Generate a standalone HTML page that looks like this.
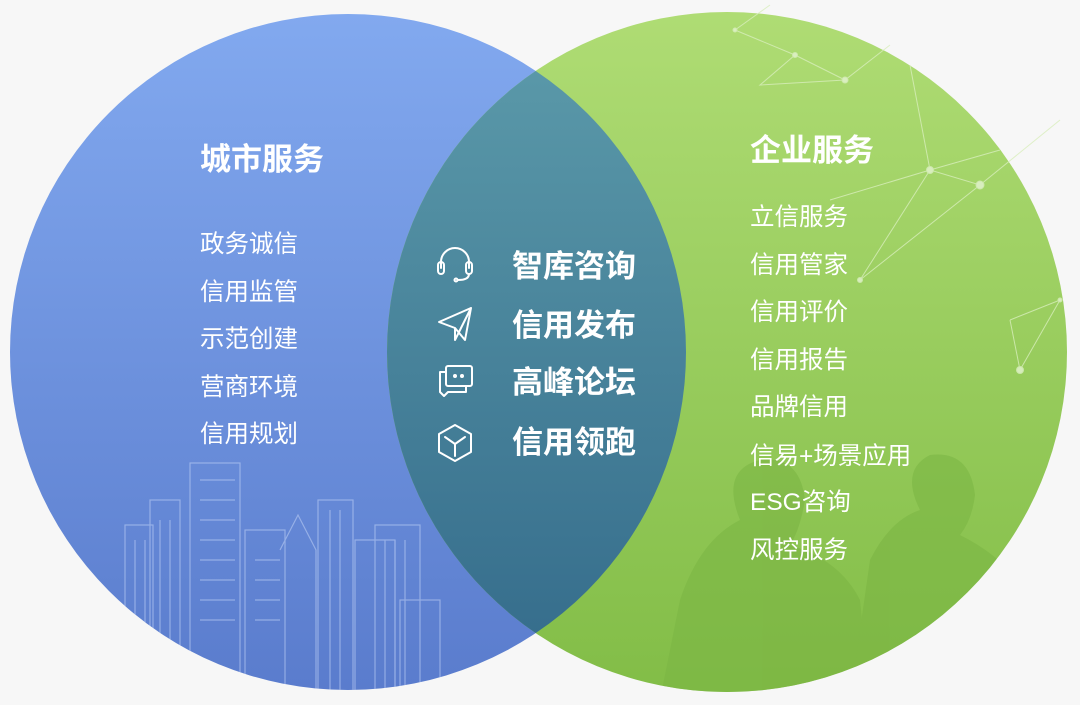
<!DOCTYPE html>
<html><head><meta charset="utf-8"><style>
html,body{margin:0;padding:0;background:#f7f7f7;}
svg{display:block}
text{font-family:"Liberation Sans","Noto Sans CJK SC",sans-serif;fill:#fff}
</style></head><body>
<svg width="1080" height="705" viewBox="0 0 1080 705" xmlns="http://www.w3.org/2000/svg">
<defs>
<linearGradient id="gb" x1="0" y1="0" x2="0" y2="1"><stop offset="0" stop-color="#82a9ef"/><stop offset="1" stop-color="#5a7ccd"/></linearGradient>
<linearGradient id="gg" x1="0" y1="0" x2="0" y2="1"><stop offset="0" stop-color="#afdc74"/><stop offset="1" stop-color="#82bd47"/></linearGradient>
<linearGradient id="gm" x1="0" y1="0" x2="0" y2="1"><stop offset="0" stop-color="#5d9cab"/><stop offset="1" stop-color="#336a8a"/></linearGradient>
<clipPath id="cl"><circle cx="348" cy="352" r="338"/></clipPath>
<clipPath id="cr"><circle cx="727" cy="352" r="340"/></clipPath>
</defs>
<rect width="1080" height="705" fill="#f7f7f7"/>
<circle cx="348" cy="352" r="338" fill="url(#gb)"/>
<circle cx="727" cy="352" r="340" fill="url(#gg)"/>
<g clip-path="url(#cr)" fill="#7cb544" opacity="0.6">
<path d="M660 700 L680 600 Q700 540 740 520 Q720 470 760 460 Q800 455 805 500 Q800 530 790 545 Q840 560 860 600 L870 700Z"/>
<path d="M850 700 L870 560 Q890 520 920 510 Q900 470 930 455 Q970 450 975 495 Q972 520 960 535 Q1010 560 1030 600 L1040 700Z"/>
</g>
<g stroke="#d8eebc" stroke-width="1" fill="#e6f4d4" opacity="0.8">
<path d="M735 30 L795 55 L845 80 L890 45 M795 55 L760 85 L845 80 M735 30 L770 5 M910 65 L930 170 L980 185 L1060 120 M930 170 L860 280 L980 185 M930 170 L1000 150 M1010 320 L1060 300 L1020 370 L1010 320 M830 200 L930 170" fill="none"/>
<circle cx="795" cy="55" r="2.5"/><circle cx="845" cy="80" r="3"/><circle cx="735" cy="30" r="2"/><circle cx="930" cy="170" r="3.5"/><circle cx="980" cy="185" r="4"/><circle cx="860" cy="280" r="2.5"/><circle cx="1020" cy="370" r="3.5"/><circle cx="1060" cy="300" r="2"/>
</g>
<g clip-path="url(#cl)" stroke="#b9ccf3" stroke-width="1.2" fill="none" opacity="0.6">
<rect x="190" y="463" width="50" height="240"/><rect x="150" y="500" width="30" height="200"/><rect x="125" y="525" width="28" height="180"/>
<rect x="245" y="530" width="40" height="170"/><path d="M280 550 L298 515 L316 550 V700"/>
<rect x="318" y="500" width="35" height="200"/><rect x="355" y="540" width="40" height="160"/><rect x="375" y="525" width="45" height="175"/><rect x="400" y="600" width="40" height="100"/>
<path d="M200 480 H235 M200 500 H235 M200 520 H235 M200 540 H235 M200 560 H235 M200 580 H235 M200 600 H235 M200 620 H235 M160 520 V700 M170 520 V700 M135 540 V700 M145 540 V700 M330 510 V700 M340 510 V700 M385 540 V700 M395 540 V700 M405 540 V700 M255 560 H280 M255 580 H280 M255 600 H280 M255 620 H280"/>
</g>
<g clip-path="url(#cl)"><circle cx="727" cy="352" r="340" fill="url(#gm)"/></g>
<text x="200" y="170" font-size="31" font-weight="bold">城市服务</text>
<g font-size="24.5">
<text x="200" y="252">政务诚信</text><text x="200" y="300">信用监管</text><text x="200" y="347">示范创建</text><text x="200" y="395">营商环境</text><text x="200" y="442">信用规划</text>
</g>
<text x="750" y="161" font-size="31" font-weight="bold">企业服务</text>
<g font-size="24.5">
<text x="750" y="225">立信服务</text><text x="750" y="273">信用管家</text><text x="750" y="320">信用评价</text><text x="750" y="368">信用报告</text><text x="750" y="415">品牌信用</text><text x="750" y="464">信易+场景应用</text><text x="750" y="510">ESG咨询</text><text x="750" y="558">风控服务</text>
</g>
<g font-size="31" font-weight="bold">
<text x="512" y="277">智库咨询</text><text x="512" y="336">信用发布</text><text x="512" y="393">高峰论坛</text><text x="512" y="453">信用领跑</text>
</g>
<g stroke="#fff" stroke-width="2" fill="none" stroke-linejoin="round" stroke-linecap="round">
<path d="M441 268 V262 A14 14 0 0 1 469 262 V268"/><rect x="438" y="262" width="6" height="12" rx="3"/><rect x="466" y="262" width="6" height="12" rx="3"/><path d="M469 274 Q469 280 458 280"/><circle cx="456" cy="280" r="1.5"/>
<path d="M439 322 L471 308 L465 340 L455 328 Z M455 328 V340 L471 308"/>
<rect x="446" y="366" width="26" height="20" rx="2"/><path d="M446 372 H440 V392 L444 396 L448 392 H466 V386"/><circle cx="455" cy="376" r="1" fill="#fff"/><circle cx="462" cy="376" r="1" fill="#fff"/>
<path d="M455 425 L471 434 V452 L455 461 L439 452 V434 Z M445 437 L455 444 L465 437 M455 444 V456"/>
</g>
</svg>
</body></html>
